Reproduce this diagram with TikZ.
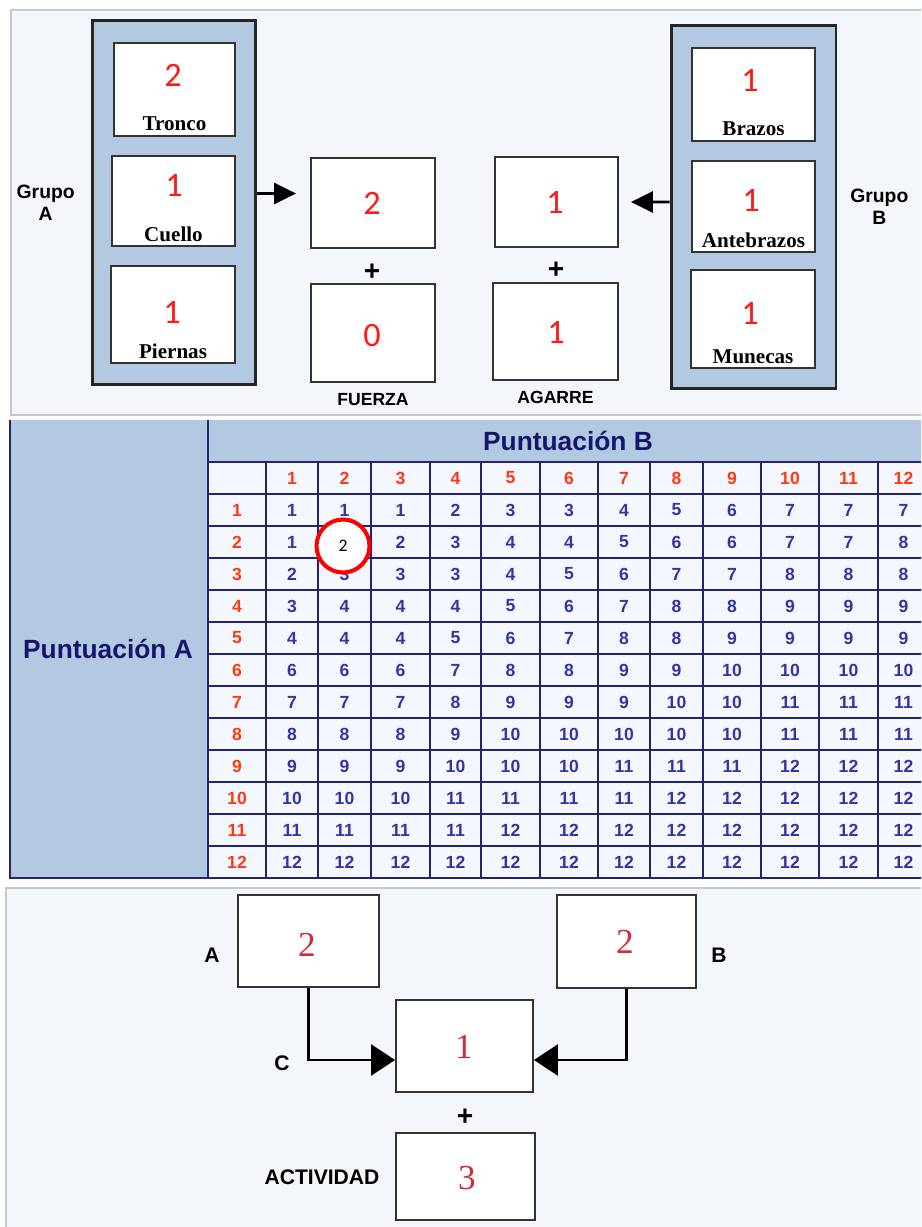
\documentclass[tikz,border=0pt]{standalone}
\usepackage{fontspec}
\usepackage{xcolor}
\usepackage{tikz}
\usetikzlibrary{positioning}
\usetikzlibrary{arrows.meta}
\setmainfont{Liberation Serif}
\newfontfamily\arialfont{Liberation Sans}
\newfontfamily\calibrifont{Carlito}
\definecolor{panelbg}{HTML}{F3F6FA}
\definecolor{panelrule}{HTML}{C8C8C8}
\definecolor{groupblue}{HTML}{B3C9E1}
\definecolor{navyline}{HTML}{24246E}
\definecolor{navytext}{HTML}{15156E}
\definecolor{cellbg}{HTML}{F4F7FD}
\definecolor{headred}{HTML}{FF3A12}
\definecolor{cellblue}{HTML}{3434A6}
\definecolor{scorered}{HTML}{FF1A1A}
\definecolor{finalred}{HTML}{D22A3A}
\tikzstyle{panel}    = [fill=panelbg, draw=panelrule, line width=1.2pt]
\tikzstyle{group}    = [rectangle, draw=black!85, fill=groupblue, line width=1.7pt, inner sep=0pt]
\tikzstyle{scorebox} = [rectangle, draw=black!80, fill=white, line width=1.1pt, inner sep=0pt]
\tikzstyle{topnum}   = [text=scorered, font=\calibrifont\fontsize{19.5}{20}\selectfont, inner sep=0pt]
\tikzstyle{finalnum} = [text=finalred, font=\fontsize{20}{22}\selectfont, inner sep=0pt]
\tikzstyle{partname} = [font=\bfseries\fontsize{12}{13}\selectfont, inner sep=0pt]
\tikzstyle{tag}      = [font=\arialfont\bfseries\fontsize{10}{12}\selectfont, inner sep=0pt, align=center]
\tikzstyle{plus}     = [font=\arialfont\bfseries\fontsize{16}{16}\selectfont, inner sep=0pt]
\tikzstyle{flow}     = [draw, line width=1.6pt, -{Triangle[length=0.44cm, width=0.42cm]}]
\tikzstyle{flowB}    = [draw, line width=1.5pt, -{Triangle[length=0.48cm, width=0.62cm]}]
\tikzstyle{cell}     = [rectangle, draw=navyline, line width=1pt, fill=cellbg, minimum height=0.64cm, inner sep=0pt, text=cellblue, font=\arialfont\bfseries\fontsize{10}{12}\selectfont]
\tikzstyle{headcell} = [cell, text=headred]
\tikzstyle{title}    = [text=navytext, font=\arialfont\bfseries\fontsize{15}{17}\selectfont, inner sep=0pt]
\def\coledges{{208,266,318,371,430,481,540,598,650,703,761,819,878,929}}
\begin{document}
\begin{tikzpicture}[x=0.02cm, y=-0.02cm]
        \useasboundingbox (0,0) rectangle (921,1227);
        \clip (0,0) rectangle (921,1227);
        \fill[white] (0,0) rectangle (921,1227);
        % top panel
        \draw[panel] (11,10) rectangle (935,415);
        \node [group, minimum width=3.28cm, minimum height=7.30cm] (grpA) at (174,202.5) {};
        \node [scorebox, minimum width=2.42cm, minimum height=1.86cm] (tronco) at (174.5,89.5) {};
        \node [scorebox, minimum width=2.46cm, minimum height=1.80cm] (cuello) at (173.5,201) {};
        \node [scorebox, minimum width=2.48cm, minimum height=1.94cm] (piernas) at (173,314.5) {};
        \node [topnum] (troncoScore) at (173,75) {2};
        \node [topnum] (cuelloScore) at (174,185) {1};
        \node [topnum] (piernasScore) at (172,312) {1};
        \node [partname, above=0.11cm of tronco.south] (troncoName) {Tronco};
        \node [partname, above=0.09cm of cuello.south] (cuelloName) {Cuello};
        \node [partname, above=0.1cm of piernas.south] (piernasName) {Piernas};
        \node [tag, font=\arialfont\bfseries\fontsize{11}{12.5}\selectfont, left=0.31cm of grpA] (grpAName) {Grupo\\A};

        \node [scorebox, minimum width=2.48cm, minimum height=1.80cm] (fuerzaTop) at (373,203) {};
        \node [scorebox, minimum width=2.48cm, minimum height=1.96cm] (fuerza) at (373,333) {};
        \node [topnum] (fuerzaTopScore) at (372,203) {2};
        \node [topnum] (fuerzaScore) at (372,335) {0};
        \node [plus] (plusA) at (372,272) {+};
        \node [tag, below=0.2cm of fuerza] (fuerzaName) {FUERZA};

        \node [scorebox, minimum width=2.46cm, minimum height=1.80cm] (agarreTop) at (556.5,202) {};
        \node [scorebox, minimum width=2.50cm, minimum height=1.94cm] (agarre) at (555.5,331.5) {};
        \node [topnum] (agarreTopScore) at (555,202) {1};
        \node [topnum] (agarreScore) at (556,332) {1};
        \node [plus] (plusB) at (556,270) {+};
        \node [tag, below=0.2cm of agarre] (agarreName) {AGARRE};

        \node [group, minimum width=3.30cm, minimum height=7.28cm] (grpB) at (753.5,207) {};
        \node [scorebox, minimum width=2.46cm, minimum height=1.86cm] (brazos) at (753.5,94.5) {};
        \node [scorebox, minimum width=2.46cm, minimum height=1.82cm] (antebrazos) at (753.5,206.5) {};
        \node [scorebox, minimum width=2.48cm, minimum height=1.96cm] (munecas) at (753,319) {};
        \node [topnum] (brazosScore) at (750,80) {1};
        \node [topnum] (antebrazosScore) at (751,200) {1};
        \node [topnum] (munecasScore) at (750,313) {1};
        \node [partname, above=0.12cm of brazos.south] (brazosName) {Brazos};
        \node [partname, above=0.1cm of antebrazos.south] (antebrazosName) {Antebrazos};
        \node [partname, above=0.1cm of munecas.south] (munecasName) {Munecas};
        \node [tag, font=\arialfont\bfseries\fontsize{11}{12.5}\selectfont, right=0.25cm of grpB] (grpBName) {Grupo\\B};

        \path [flow, shorten >=0.28cm] ([yshift=0.18cm]grpA.east) -- ([yshift=0.18cm]grpA.east -| fuerzaTop.west);
        \path [flow, shorten >=0.24cm] ([yshift=0.1cm]grpB.west) -- (agarreTop.east);

        % score table
        \fill[groupblue] (10,420) rectangle (935,878);
        \draw[navyline, line width=1.2pt] (10,420) -- (10,878) -- (935,878);
        \draw[navyline, line width=1pt] (208,420) -- (208,462);
        \node [title, anchor=base] (titleA) at (108,658) {Puntuación A};
        \node [title, anchor=base] (titleB) at (568,450) {Puntuación B};
        \node [headcell, minimum width=1.16cm] (h-0) at (237,478) {};
        \foreach \c in {1,...,12} {
            \pgfmathsetmacro\xl{\coledges[\c]}
            \pgfmathsetmacro\xr{\coledges[\c+1]}
            \node [headcell, minimum width={(\xr-\xl)*0.02cm}] (h-\c) at ({(\xl+\xr)/2},478) {\c};
        }
        \foreach \vals [count=\r] in {{1,1,1,2,3,3,4,5,6,7,7,7},
                                      {1,2,2,3,4,4,5,6,6,7,7,8},
                                      {2,3,3,3,4,5,6,7,7,8,8,8},
                                      {3,4,4,4,5,6,7,8,8,9,9,9},
                                      {4,4,4,5,6,7,8,8,9,9,9,9},
                                      {6,6,6,7,8,8,9,9,10,10,10,10},
                                      {7,7,7,8,9,9,9,10,10,11,11,11},
                                      {8,8,8,9,10,10,10,10,10,11,11,11},
                                      {9,9,9,10,10,10,11,11,11,12,12,12},
                                      {10,10,10,11,11,11,11,12,12,12,12,12},
                                      {11,11,11,11,12,12,12,12,12,12,12,12},
                                      {12,12,12,12,12,12,12,12,12,12,12,12}} {
            \node [headcell, minimum width=1.16cm] (r-\r) at (237,{478+32*\r}) {\r};
            \foreach \v [count=\c] in \vals {
                \pgfmathsetmacro\xl{\coledges[\c]}
                \pgfmathsetmacro\xr{\coledges[\c+1]}
                \pgfmathtruncatemacro\hide{and(\r==2,\c==2)}
                \node [cell, minimum width={(\xr-\xl)*0.02cm}] (c-\r-\c) at ({(\xl+\xr)/2},{478+32*\r}) {\ifnum\hide=1 \else\v\fi};
            }
        }
        \node [circle, draw=red, fill=white, line width=2.3pt, minimum size=1.06cm, inner sep=0pt, font=\calibrifont\fontsize{10}{12}\selectfont] (pick) at (343,546) {2};

        % final score panel
        \draw[panel] (6,888) rectangle (935,1240);
        \node [scorebox, minimum width=2.82cm, minimum height=1.84cm] (boxA) at (308.5,941) {};
        \node [scorebox, minimum width=2.78cm, minimum height=1.86cm] (boxB) at (626.5,941.5) {};
        \node [scorebox, minimum width=2.74cm, minimum height=1.84cm] (boxC) at (464.5,1046) {};
        \node [scorebox, minimum width=2.78cm, minimum height=1.74cm] (boxAct) at (465.5,1176.5) {};
        \node [finalnum] (scoreA) at (307,945) {2};
        \node [finalnum] (scoreB) at (625,942) {2};
        \node [finalnum] (scoreC) at (464,1047) {1};
        \node [finalnum] (scoreAct) at (467,1178) {3};
        \node [tag, font=\arialfont\bfseries\fontsize{12}{14}\selectfont] (nameA) at (212,955) {A};
        \node [tag, font=\arialfont\bfseries\fontsize{12}{14}\selectfont] (nameB) at (719,955) {B};
        \node [tag, font=\arialfont\bfseries\fontsize{12}{14}\selectfont] (nameC) at (282,1063) {C};
        \node [tag, font=\arialfont\bfseries\fontsize{12}{14}\selectfont] (nameAct) at (322,1177) {ACTIVIDAD};
        \node [plus] (plusC) at (465,1117) {+};
        \path [flowB] (boxA.south) |- ([yshift=-0.28cm]boxC.west);
        \path [flowB] (boxB.south) |- ([yshift=-0.28cm]boxC.east);
    \end{tikzpicture}
\end{document}
